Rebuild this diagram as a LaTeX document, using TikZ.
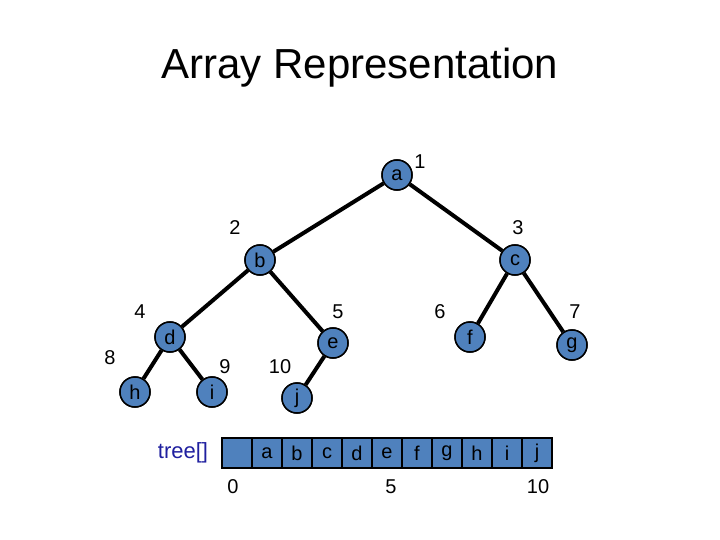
\documentclass[tikz,border=0pt]{standalone}
\usepackage{fontspec}
\setmainfont{Liberation Sans}
\begin{document}
\begin{tikzpicture}[x=1pt,y=-1pt,
  tn/.style={circle,draw=black,line width=1.5pt,fill=nodeblue,minimum size=30pt,inner sep=0pt,font=\fontsize{20}{20}\selectfont},
  ed/.style={line width=4pt},
  lb/.style={font=\fontsize{20}{20}\selectfont},
  cell/.style={draw=black,line width=1.5pt,fill=nodeblue,minimum width=30pt,minimum height=30pt,inner sep=0pt,font=\fontsize{20}{20}\selectfont}]
\definecolor{nodeblue}{HTML}{4F81BD}
\definecolor{treeblue}{HTML}{1F1F9F}
\useasboundingbox (0,0) rectangle (720,540);
\node[font=\fontsize{42}{42}\selectfont] (title) at (360,68) {Array Representation};
\node[tn] (a) at (397,175) {a};
\node[tn] (b) at (260,260) {b};
\node[tn] (c) at (515,260) {c};
\node[tn] (d) at (170,337) {d};
\node[tn] (e) at (333,343) {e};
\node[tn] (f) at (470,337) {f};
\node[tn] (g) at (572,345) {g};
\node[tn] (h) at (135,392) {h};
\node[tn] (i) at (212,392) {i};
\node[tn] (j) at (297,398) {j};
\begin{scope}[on background layer/.style={}]
\end{scope}
\draw[ed] (a) -- (b); \draw[ed] (a) -- (c);
\draw[ed] (b) -- (d); \draw[ed] (b) -- (e);
\draw[ed] (c) -- (f); \draw[ed] (c) -- (g);
\draw[ed] (d) -- (h); \draw[ed] (d) -- (i);
\draw[ed] (e) -- (j);
\foreach \n/\p in {a/{(397,175)},b/{(260,260)},c/{(515,260)},d/{(170,337)},e/{(333,343)},f/{(470,337)},g/{(572,345)},h/{(135,392)},i/{(212,392)},j/{(297,398)}}
  \node[tn] at \p {\n};
\node[lb] (l1) at (420,162) {1};
\node[lb] (l2) at (235,228) {2};
\node[lb] (l3) at (518,228) {3};
\node[lb] (l4) at (140,312) {4};
\node[lb] (l5) at (338,312) {5};
\node[lb] (l6) at (440,312) {6};
\node[lb] (l7) at (575,312) {7};
\node[lb] (l8) at (110,358) {8};
\node[lb] (l9) at (225,367) {9};
\node[lb] (l10) at (280,367) {10};
\foreach \k/\t in {0/{},1/a,2/b,3/c,4/d,5/e,6/f,7/g,8/h,9/i,10/j}
  \node[cell] (c\k) at ({237+30*\k},453) {\t};
\node[font=\fontsize{22}{22}\selectfont,text=treeblue] (tree) at (183,453) {tree[]};
\node[lb] (i0) at (233,487) {0};
\node[lb] (i5) at (391,487) {5};
\node[lb] (i10) at (538,487) {10};
\end{tikzpicture}
\end{document}
